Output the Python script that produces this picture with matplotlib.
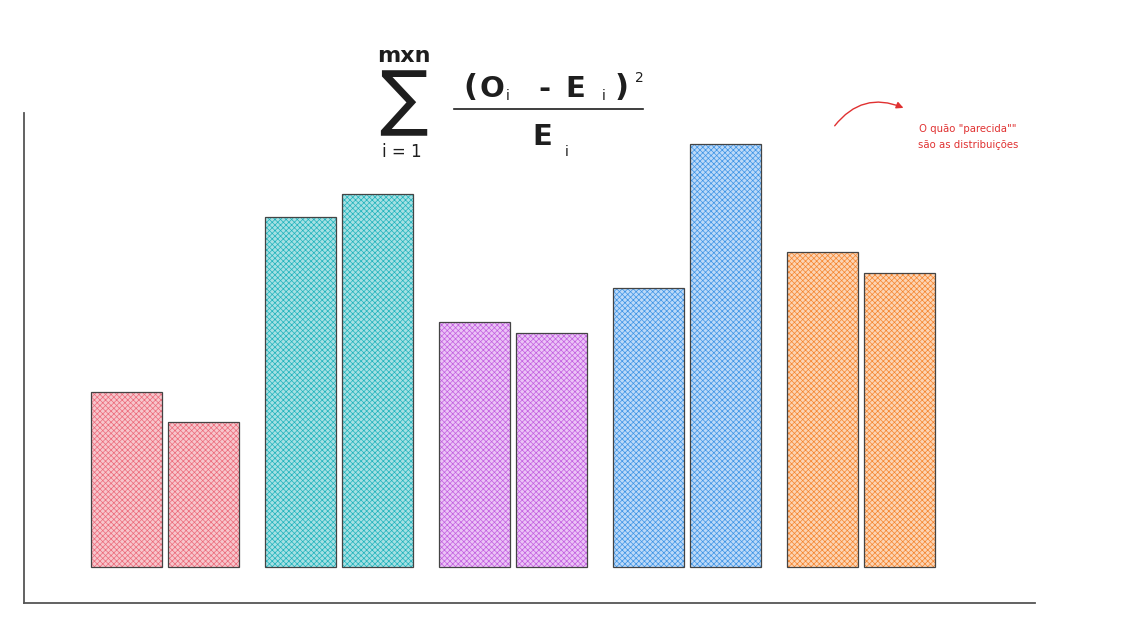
import numpy as np
import matplotlib.pyplot as plt

groups = ['G1', 'G2', 'G3', 'G4', 'G5']
observed = [175, 350, 245, 279, 315]
expected = [145, 373, 234, 423, 294]
fill_light = ['#f7c6cc', '#a6e0e3', '#ebc3f6', '#bcd9f8', '#fcd4b4']
fill_dark = ['#ec6a7a', '#1fb3bc', '#c25fe0', '#3d94e6', '#f5852e']

plt.rcParams['hatch.linewidth'] = 0.5

fig = plt.figure(figsize=(11.41, 6.38), dpi=100)
W, H = 1141, 638
ax = fig.add_axes([24 / W, 1 - 603 / H, (1035 - 24) / W, (603 - 113) / H])

x = np.arange(len(groups))
width = 0.408
off = 0.221
for xs, vals in [(x - off, observed), (x + off, expected)]:
    ax.bar(xs, vals, width, color=fill_light, edgecolor=fill_dark,
           hatch='xxxxxx', linewidth=0)
    ax.bar(xs, vals, width, facecolor='none', edgecolor='#444444',
           linewidth=0.9)

ax.set_xlim(-0.81, 5.0)
ax.set_ylim(-36, 454)
ax.set_xticks([])
ax.set_yticks([])
for s in ['top', 'right']:
    ax.spines[s].set_visible(False)
for s in ['left', 'bottom']:
    ax.spines[s].set_color('#555555')
    ax.spines[s].set_linewidth(1.3)

# formula
ink = '#1e1e1e'
def fx(px):
    return px / W
def fy(py):
    return 1 - py / H

def put(px, py, s, size, **kw):
    fig.text(fx(px), fy(py), s, fontsize=size, ha='center', va='center',
             color=ink, **kw)

put(403, 103, '\u2211', 52)
put(404, 56, 'mxn', 16, fontweight='bold')
put(402, 152, 'i = 1', 12)
put(470, 88, '(', 22, fontweight='bold')
put(492, 89, 'O', 21, fontweight='bold')
put(508, 96, 'i', 10)
put(544, 89, '-', 21, fontweight='bold')
put(575, 89, 'E', 21, fontweight='bold')
put(604, 96, 'i', 10)
put(622, 88, ')', 22, fontweight='bold')
put(639, 78, '2', 10)
fig.add_artist(plt.Line2D([fx(454), fx(643)], [fy(109), fy(109)],
                          color=ink, linewidth=1.2))
put(542, 137, 'E', 21, fontweight='bold')
put(567, 152, 'i', 10)

# annotation
fig.text(fx(968), fy(137), 'O quão "parecida""\nsão as distribuições',
         fontsize=7.3, color='#e03131', ha='center', va='center',
         linespacing=1.75)
fig.add_artist(plt.matplotlib.patches.FancyArrowPatch(
    (fx(833), fy(128)), (fx(906), fy(109)),
    transform=fig.transFigure, connectionstyle='arc3,rad=-0.4',
    arrowstyle='-|>,head_length=4,head_width=2', color='#e03131',
    linewidth=1.0))

fig.savefig('out.png', dpi=100)
